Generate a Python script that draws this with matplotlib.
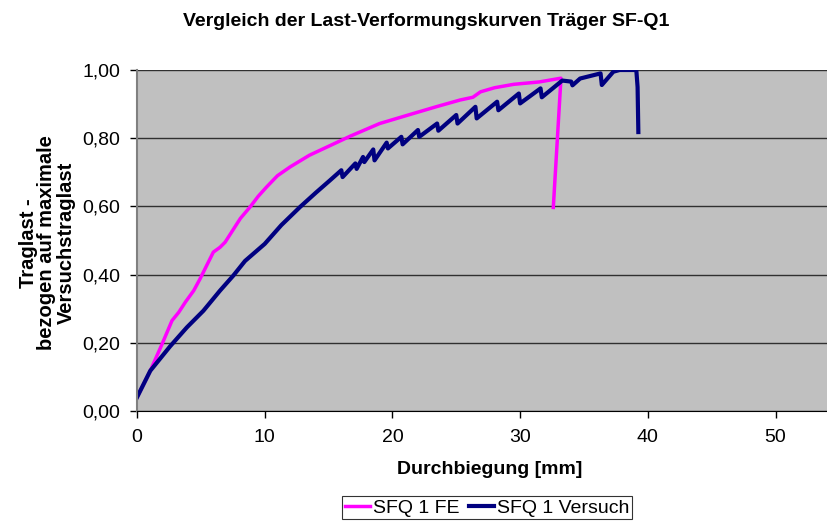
import matplotlib
matplotlib.use("Agg")
import matplotlib.pyplot as plt
from matplotlib.ticker import FuncFormatter, MultipleLocator

plt.rcParams["font.family"] = ["Liberation Sans", "DejaVu Sans"]

# FE-Berechnung (bezogene Traglast über Durchbiegung)
fe_x = [0, 1.04, 1.96, 2.74, 3.26, 3.8, 4.44, 4.93, 5.5, 5.98, 6.5, 6.9, 7.5, 8.1,
        8.85, 9.5, 10.15, 11.0, 12.0, 13.5, 15.1, 16.7, 19.0, 21.6, 23.5, 25.3,
        26.3, 26.9, 28.0, 29.5, 31.5, 33.2, 32.6]
fe_y = [0.04, 0.118, 0.196, 0.265, 0.289, 0.32, 0.353, 0.387, 0.43, 0.466, 0.48,
        0.495, 0.53, 0.565, 0.598, 0.63, 0.657, 0.69, 0.716, 0.75, 0.778, 0.806,
        0.843, 0.872, 0.893, 0.912, 0.92, 0.936, 0.948, 0.958, 0.965, 0.976, 0.597]

# Versuch mit Entlastungszacken
test_x = [0, 1.04, 2.6, 3.9, 5.2, 6.5, 7.54, 8.46, 10.0, 11.3, 12.76, 14.0, 15.1,
          16.0, 16.1, 17.1, 17.2, 17.7, 17.8, 18.5, 18.6, 19.55, 19.65, 20.7, 20.8,
          22.0, 22.1, 23.5, 23.6, 25.0, 25.1, 26.5, 26.6, 28.2, 28.3, 29.9, 30.0,
          31.6, 31.7, 33.3, 34.0, 34.1, 34.7, 36.3, 36.4, 37.3, 37.8, 39.1, 39.2, 39.26]
test_y = [0.04, 0.118, 0.19, 0.245, 0.294, 0.353, 0.397, 0.44, 0.49, 0.545, 0.598,
          0.64, 0.676, 0.706, 0.686, 0.726, 0.71, 0.745, 0.73, 0.767, 0.735, 0.787,
          0.77, 0.804, 0.782, 0.824, 0.804, 0.843, 0.822, 0.868, 0.843, 0.892, 0.858,
          0.907, 0.882, 0.931, 0.902, 0.946, 0.92, 0.969, 0.966, 0.955, 0.975, 0.99,
          0.956, 0.995, 1.0, 1.0, 0.95, 0.818]

W, H = 827, 522
fig = plt.figure(figsize=(W / 100, H / 100), dpi=100)
ax = fig.add_axes([137 / W, (H - 411) / H, 1 - 137 / W, 341 / H])
ax.set_facecolor("#C0C0C0")

ax.plot(fe_x, fe_y, color="#FF00FF", linewidth=2.5, label="SFQ 1 FE",
        solid_joinstyle="round")
ax.plot(test_x, test_y, color="#000080", linewidth=3, label="SFQ 1 Versuch",
        solid_joinstyle="round")

ax.set_xlim(0, (W - 137) / 12.77)
ax.set_ylim(0, 1.0)
ax.xaxis.set_major_locator(MultipleLocator(10))
ax.yaxis.set_major_locator(MultipleLocator(0.2))
ax.yaxis.set_major_formatter(FuncFormatter(lambda v, _: f"{v:.2f}".replace(".", ",")))
ax.grid(axis="y", color="#303030", linewidth=1.0)
ax.set_axisbelow(True)

for side in ("top", "right"):
    ax.spines[side].set_visible(False)
ax.spines["left"].set_color("#808080")
ax.spines["left"].set_linewidth(1.5)
ax.spines["bottom"].set_color("black")
ax.tick_params(direction="out", length=5, width=1, labelsize=14)
ax.tick_params(axis="x", pad=8)
ax.tick_params(axis="y", pad=7)

fig.text(426 / W, 1 - 22 / H, "Vergleich der Last-Verformungskurven Träger SF-Q1",
         ha="center", va="center", fontsize=14, fontweight="bold")
fig.text(490 / W, 1 - 470 / H, "Durchbiegung [mm]", ha="center", va="center",
         fontsize=14, fontweight="bold")
fig.text(47 / W, 1 - 243 / H, "Traglast -\nbezogen auf maximale\nVersuchstraglast",
         ha="center", va="center", rotation=90, fontsize=14.5, fontweight="bold",
         multialignment="center", linespacing=1.0)

leg = fig.legend(loc="upper center", bbox_to_anchor=(487 / W, 1 - 496 / H),
                 ncol=2, fontsize=14, frameon=True, fancybox=False,
                 handlelength=1.3, handletextpad=0.15, columnspacing=0.5,
                 borderpad=0.15, borderaxespad=0)
leg.get_frame().set_edgecolor("black")
leg.get_frame().set_linewidth(0.8)

fig.savefig("out.png", dpi=100, facecolor="white")
